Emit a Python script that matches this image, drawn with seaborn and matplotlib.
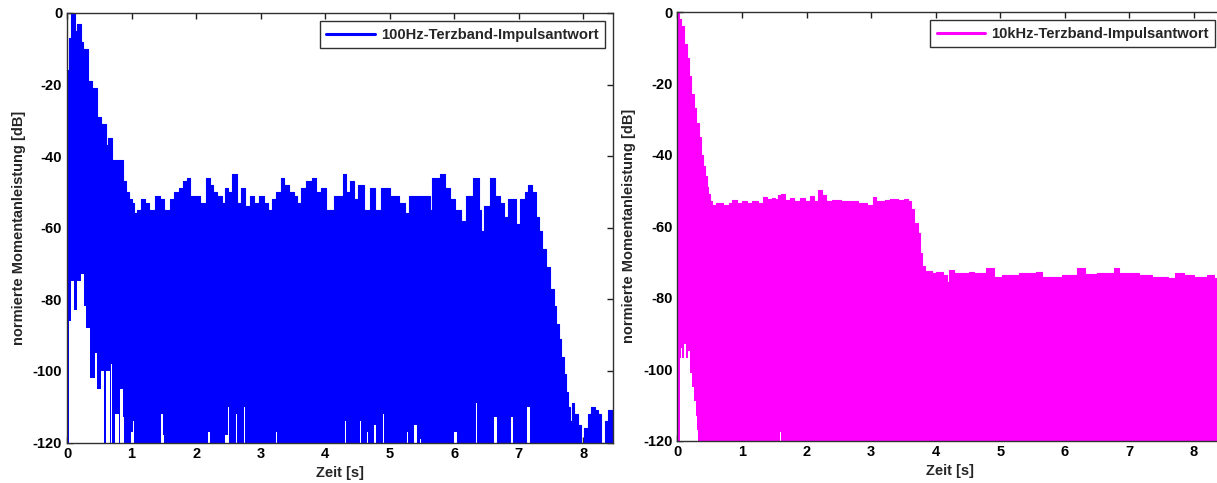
import numpy as np
import pandas as pd
import matplotlib
matplotlib.use("Agg")
import matplotlib.pyplot as plt
import seaborn as sns

# ---------------- data ----------------
# 100 Hz third-octave impulse response: upper envelope (step starts)
t_100 = [0.00, 0.03, 0.06, 0.12, 0.16, 0.21, 0.25, 0.33, 0.39, 0.46, 0.52, 0.60,
         0.64, 0.70, 0.80, 0.86, 0.92, 0.96, 1.00, 1.04, 1.09, 1.15, 1.21, 1.27,
         1.36, 1.44, 1.50, 1.60, 1.66, 1.73, 1.80, 1.86, 1.91, 2.06, 2.15, 2.21,
         2.26, 2.33, 2.40, 2.45, 2.50, 2.55, 2.64, 2.70, 2.76, 2.83, 2.90, 2.98,
         3.05, 3.11, 3.17, 3.24, 3.31, 3.37, 3.44, 3.51, 3.57, 3.63, 3.70, 3.79,
         3.86, 3.94, 4.02, 4.13, 4.27, 4.33, 4.39, 4.45, 4.51, 4.60, 4.69, 4.77,
         4.86, 5.00, 5.14, 5.23, 5.30, 5.62, 5.66, 5.78, 5.86, 5.93, 6.01, 6.10,
         6.18, 6.29, 6.38, 6.42, 6.46, 6.55, 6.63, 6.71, 6.77, 6.84, 6.96, 7.02,
         7.09, 7.15, 7.21, 7.26, 7.31, 7.36, 7.42, 7.48, 7.54, 7.58, 7.62, 7.66,
         7.70, 7.73, 7.76, 7.79, 7.82, 7.86, 7.91, 7.96, 8.01, 8.07, 8.12, 8.18,
         8.23, 8.28, 8.33, 8.38, 8.46]
db_100 = [-16, -7, 0, -5, -3, -8, -10, -19, -21, -29, -31, -37,
          -35, -41, -41, -47, -50, -52, -53, -56, -55, -52, -53, -55,
          -51, -52, -55, -52, -50, -49, -47, -46, -51, -53, -46, -48,
          -50, -51, -53, -49, -50, -45, -53, -49, -54, -51, -53, -51,
          -53, -55, -52, -50, -46, -48, -50, -51, -53, -49, -47, -46,
          -50, -49, -55, -51, -45, -50, -47, -52, -48, -55, -49, -55,
          -49, -51, -53, -56, -51, -55, -46, -45, -49, -52, -55, -58,
          -51, -46, -55, -61, -54, -46, -51, -53, -57, -52, -59, -52,
          -50, -48, -50, -57, -61, -66, -71, -77, -82, -87, -91, -96,
          -101, -106, -110, -114, -109, -112, -115, -120, -116, -112, -110, -111,
          -112, -120, -114, -111, -111]
# white gaps below the 100 Hz signal: start [s], end [s], top [dB]
gap_100_start = [0.03, 0.06, 0.11, 0.16, 0.22, 0.26, 0.30, 0.36, 0.43, 0.47, 0.53,
                 0.61, 0.68, 0.75, 0.82, 0.86, 0.99, 1.03, 1.46, 1.48, 2.04, 2.10,
                 2.18, 2.35, 2.45, 2.50, 2.62, 2.75, 3.24, 3.42, 3.56, 4.21, 4.30,
                 4.54, 4.65, 4.76, 4.90, 5.17, 5.27, 5.38, 5.47, 6.00, 6.34, 6.62,
                 6.88, 7.12]
gap_100_end = [0.06, 0.11, 0.16, 0.22, 0.26, 0.30, 0.36, 0.43, 0.47, 0.53, 0.57,
               0.67, 0.69, 0.80, 0.86, 0.88, 1.03, 1.04, 1.48, 1.50, 2.05, 2.11,
               2.22, 2.36, 2.49, 2.51, 2.64, 2.76, 3.25, 3.43, 3.57, 4.22, 4.33,
               4.55, 4.66, 4.79, 4.91, 5.18, 5.28, 5.43, 5.48, 6.04, 6.36, 6.67,
               6.91, 7.18]
gap_100_top = [-86, -75, -83, -75, -73, -82, -88, -102, -95, -105, -100,
               -100, -98, -112, -105, -113, -117, -114, -112, -118, -117, -117,
               -117, -115, -118, -110, -112, -110, -117, -112, -113, -114, -114,
               -114, -117, -115, -112, -112, -117, -115, -119, -117, -109, -113,
               -113, -110]

# 10 kHz third-octave impulse response: upper envelope (step starts)
t_10k = [0.00, 0.03, 0.06, 0.10, 0.14, 0.18, 0.21, 0.25, 0.29, 0.33, 0.37, 0.40,
         0.42, 0.45, 0.47, 0.50, 0.53, 0.60, 0.70, 0.80, 0.84, 0.92, 1.00, 1.08,
         1.15, 1.25, 1.32, 1.38, 1.41, 1.47, 1.51, 1.56, 1.60, 1.66, 1.74, 1.80,
         1.90, 1.97, 2.05, 2.12, 2.18, 2.24, 2.30, 2.40, 2.53, 2.70, 2.80, 2.93,
         3.03, 3.08, 3.21, 3.30, 3.41, 3.51, 3.57, 3.62, 3.67, 3.72, 3.76, 3.79,
         3.83, 3.95, 4.01, 4.11, 4.18, 4.21, 4.29, 4.52, 4.60, 4.78, 4.90, 5.03,
         5.29, 5.55, 5.65, 5.95, 6.19, 6.31, 6.50, 6.77, 6.84, 7.15, 7.35, 7.60,
         7.71, 7.85, 8.01, 8.20, 8.32, 8.46]
db_10k = [0, -2, -4, -9, -13, -18, -23, -27, -31, -35, -40, -43,
          -46, -49, -51, -53, -54, -53.5, -54, -53.5, -52.6, -53.5, -53, -53.5,
          -53, -53.5, -51.7, -53, -52.5, -52, -52.5, -51.2, -51, -52.6, -52, -53,
          -52, -53, -51.5, -53, -49.8, -51.3, -53, -52.6, -53, -53, -53.5, -54,
          -51.7, -53, -52.6, -52.4, -52.6, -52.4, -53, -55.3, -59, -62, -67.5, -71,
          -72.5, -73.2, -72.7, -73.7, -75.5, -72.2, -73.2, -72.7, -73.2, -71.7, -74.1, -73.7,
          -73.2, -72.7, -74.1, -73.7, -71.7, -73.5, -73.2, -71.7, -73.2, -73.7, -74.1, -74.5,
          -73.2, -73.7, -74.1, -73.7, -74.6, -74.6]
# white gaps below the 10 kHz signal
gap_10k_start = [0.035, 0.05, 0.07, 0.10, 0.13, 0.17, 0.20, 0.23, 0.26, 0.28, 0.30, 1.59]
gap_10k_end = [0.05, 0.07, 0.10, 0.13, 0.17, 0.20, 0.23, 0.26, 0.28, 0.30, 0.32, 1.60]
gap_10k_top = [-97, -94, -97, -93, -97, -95, -101, -105, -109, -113, -117, -117.5]

x_ticks = [0, 1, 2, 3, 4, 5, 6, 7, 8]
y_ticks = [-120, -100, -80, -60, -40, -20, 0]
x_label = "Zeit [s]"
y_label = "normierte Momentanleistung [dB]"
labels = ["100Hz-Terzband-Impulsantwort", "10kHz-Terzband-Impulsantwort"]
colors = ["#0000ff", "#ff00ff"]

# ---------------- style ----------------
sns.set_theme(style="white")
plt.rcParams["font.family"] = ["Liberation Sans", "DejaVu Sans"]
plt.rcParams["font.weight"] = "bold"
plt.rcParams["axes.labelweight"] = "bold"

W, H = 1217, 483
fig = plt.figure(figsize=(W / 100, H / 100), dpi=100, facecolor="white")

positions = [
    [67 / W, (H - 442.5) / H, 546 / W, 429.5 / H],
    [677.5 / W, (H - 440.5) / H, 546 / W, 428.5 / H],
]

panels = [
    (t_100, db_100, gap_100_start, gap_100_end, gap_100_top),
    (t_10k, db_10k, gap_10k_start, gap_10k_end, gap_10k_top),
]


def gap_runs(starts, ends, tops):
    """Group touching gap segments into runs for seamless step fills."""
    runs = []
    cur = None
    for s, e, top in zip(starts, ends, tops):
        if cur is not None and abs(s - cur["x"][-1]) < 1e-9:
            cur["x"].append(e)
            cur["y"].insert(len(cur["y"]), top)
        else:
            if cur is not None:
                runs.append(cur)
            cur = {"x": [s, e], "y": [top]}
    if cur is not None:
        runs.append(cur)
    for r in runs:
        r["y"].append(r["y"][-1])
    return runs


for i, (t, v, gs, ge, gt) in enumerate(panels):
    ax = fig.add_axes(positions[i])
    df = pd.DataFrame({"t": t, "v": v})
    ax.fill_between(df["t"], -120, df["v"], step="post", color=colors[i],
                    linewidth=0, zorder=1)
    sns.lineplot(data=df, x="t", y="v", ax=ax, color=colors[i], linewidth=0.8,
                 drawstyle="steps-post", estimator=None, sort=False,
                 label=labels[i], zorder=1.2)
    for r in gap_runs(gs, ge, gt):
        ax.fill_between(r["x"], -120, r["y"], step="post", color="white",
                        linewidth=0, zorder=1.5)

    ax.set_xlim(0, 8.46)
    ax.set_ylim(-120, 0)
    ax.set_xticks(x_ticks)
    ax.set_yticks(y_ticks)
    ax.set_xticklabels([str(x) for x in x_ticks], fontsize=10.5, fontweight="bold")
    ax.set_yticklabels([str(y) for y in y_ticks], fontsize=10.5, fontweight="bold")
    ax.tick_params(direction="in", length=4, width=1, color="#202020",
                   top=True, right=True, bottom=True, left=True, pad=3.5,
                   labelcolor="black")
    for sp in ax.spines.values():
        sp.set_color("#303030")
        sp.set_linewidth(1.0)
        sp.set_visible(True)
        sp.set_zorder(3)
    ax.set_xlabel(x_label, fontsize=10.5, fontweight="bold", labelpad=3)
    ax.set_ylabel(y_label, fontsize=10.5, fontweight="bold", labelpad=5)
    ax.grid(False)

    leg = ax.legend(loc="upper right", fancybox=False, framealpha=1,
                    edgecolor="#303030", handlelength=3.3, handletextpad=0.4,
                    borderaxespad=0.55, borderpad=0.45,
                    prop={"weight": "bold", "size": 10.6})
    leg.get_frame().set_linewidth(1.0)
    for h in leg.get_lines():
        h.set_linewidth(2.2)

fig.savefig("out.png", dpi=100, facecolor="white")
